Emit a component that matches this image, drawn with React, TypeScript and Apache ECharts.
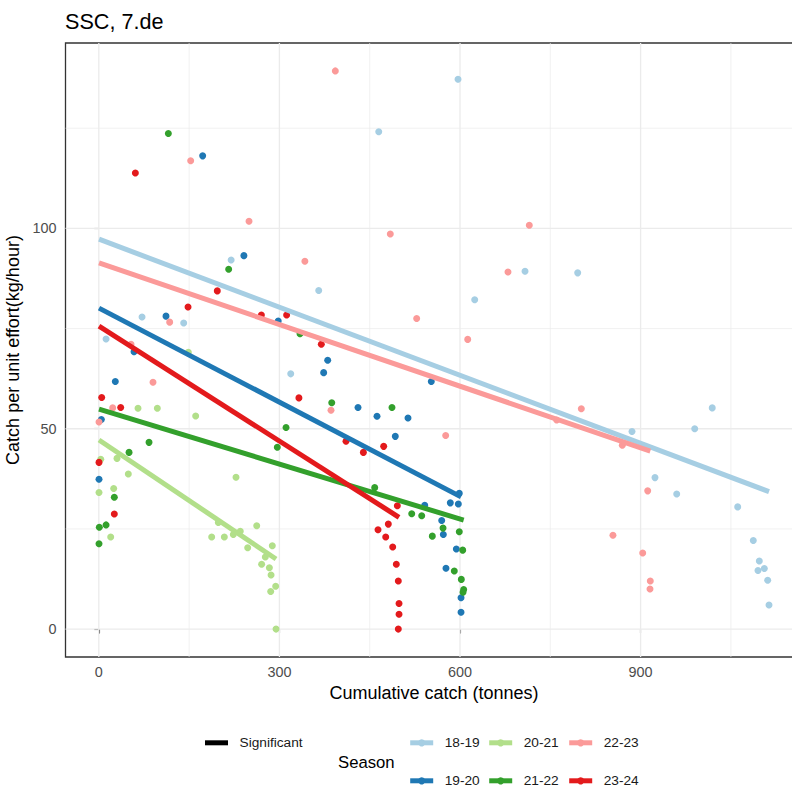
import React, { useEffect, useRef } from "react";
import * as echarts from "echarts";

const FONT = "'Liberation Sans', Arial, sans-serif";

const seasons = ["18-19", "19-20", "20-21", "21-22", "22-23", "23-24"];
const colors = ["#A6CEE3", "#1F78B4", "#B2DF8A", "#33A02C", "#FB9A99", "#E31A1C"];

const xTicks = [0, 300, 600, 900];
const xMinor = [150, 450, 750, 1050];
const yTicks = [0, 50, 100];
const yMinor = [25, 75, 125];

const xRange = [-55.35, 1168.95];
const yRange = [-6.965, 146.265];

const pts1819: number[][] = [
  [12, 72.4], [71.8, 77.9], [141, 76.4], [219.8, 92.1], [318.8, 63.7], [365.3, 84.5],
  [465, 124.1], [596.7, 137.2], [624.4, 82.2], [708, 89.3], [795.5, 88.9], [885.7, 49.3],
  [923.9, 37.8], [960, 33.7], [989.9, 50.0], [1019, 55.2], [1061.3, 30.5], [1087.2, 22.1],
  [1095, 14.6], [1097.2, 17.0], [1105.5, 15.1], [1111.1, 12.2], [1113.3, 6.0],
];
const pts1920: number[][] = [
  [172.5, 118.1], [241, 93.2], [111.6, 78.1], [298, 76.9], [58.5, 69.2], [27.4, 61.8],
  [4.2, 52.3], [0.3, 37.4], [380.2, 67.1], [373.5, 64.0], [552.3, 61.8], [430.6, 55.3],
  [462.1, 53.1], [513.6, 52.7], [492.5, 48.1], [541.4, 30.9], [583.9, 31.5], [598.8, 33.9],
  [597.2, 31.2], [569.6, 27.1], [572.3, 23.6], [593.9, 20.0], [576.7, 15.2], [601.7, 7.8],
  [601.7, 4.2],
];
const pts2021: number[][] = [
  [3.2, 42.4], [30.2, 42.6], [0.3, 34.1], [24.7, 35.1], [19.7, 23.0], [49, 38.7],
  [65.1, 55.1], [97.2, 55.1], [148.7, 69.1], [160.9, 53.2], [227.9, 37.9], [187.5, 23.0],
  [208.5, 23.0], [198.5, 26.6], [223.4, 23.6], [235, 24.4], [262.3, 25.8], [247.3, 20.3],
  [288.2, 20.8], [276.6, 18.0], [270.5, 16.2], [283.3, 15.3], [286.1, 13.5], [293.8, 10.7],
  [285.5, 9.4], [294.4, 0],
];
const pts2122: number[][] = [
  [115.5, 123.7], [215.7, 89.8], [334.2, 73.7], [386.9, 56.5], [487, 55.3], [311, 50.3],
  [296.5, 45.4], [83.4, 46.6], [50.2, 44.1], [25.7, 32.9], [12, 26.0], [0.8, 25.4],
  [0.3, 21.3], [458.3, 35.3], [519.8, 28.8], [536.4, 28.3], [571.8, 25.2], [554, 23.2],
  [598.8, 24.3], [604.5, 19.7], [590.5, 14.5], [602.2, 12.4], [606.1, 9.9], [605, 9.2],
];
const pts2223: number[][] = [
  [152.6, 116.9], [249.5, 101.8], [342.3, 91.8], [392.9, 139.3], [484.2, 98.6], [715.1, 100.8],
  [679.7, 89.1], [528, 77.5], [612.8, 72.3], [117.7, 76.6], [53.5, 71.1], [90, 61.6],
  [23, 55.2], [0.3, 51.7], [385.7, 54.6], [576.2, 48.3], [801.5, 55.0], [760.6, 52.2],
  [869.6, 45.9], [911.8, 34.5], [854.1, 23.4], [903.5, 19.0], [916.1, 12.0], [915.6, 10.0],
];
const pts2324: number[][] = [
  [60.7, 113.8], [196.8, 84.4], [148.2, 80.4], [270, 78.4], [312, 78.4], [369.6, 71.1],
  [332.4, 57.7], [4.8, 57.8], [36.3, 55.3], [0.3, 41.6], [25.7, 28.7], [410.6, 46.9],
  [439.5, 44.1], [473.2, 45.6], [495.9, 30.8], [480.9, 26.2], [463.8, 24.8], [476.6, 23.0],
  [488.2, 20.5], [494.2, 16.2], [497.5, 12.0], [498.7, 6.4], [498.7, 3.7], [497.5, 0],
];
const points = [pts1819, pts1920, pts2021, pts2122, pts2223, pts2324];

// fitted regression lines: [x0, y0, x1, y1]
const fit1819 = [0.3, 97.3, 1113.3, 34.3];
const fit1920 = [0.3, 80.1, 601.7, 33.0];
const fit2021 = [0.3, 47.2, 294.4, 17.5];
const fit2122 = [0.3, 54.9, 606.1, 27.2];
const fit2223 = [0.3, 91.4, 916.1, 44.4];
const fit2324 = [0.3, 75.6, 498.7, 27.9];
const fits = [fit1819, fit1920, fit2021, fit2122, fit2223, fit2324];

export default function App() {
  const ref = useRef<HTMLDivElement>(null);
  useEffect(() => {
    document.body.style.margin = "0";
    const chart = echarts.init(ref.current!, null, { renderer: "svg" });

    const gridSeries: any[] = [];
    const gl = (data: number[][], w: number) => ({
      type: "line",
      data,
      silent: true,
      symbol: "none",
      z: 1,
      lineStyle: { color: "#EBEBEB", width: w },
      animation: false,
    });
    xMinor.forEach((v) => gridSeries.push(gl([[v, yRange[0]], [v, yRange[1]]], 0.7)));
    yMinor.forEach((v) => gridSeries.push(gl([[xRange[0], v], [xRange[1], v]], 0.7)));
    xTicks.forEach((v) => gridSeries.push(gl([[v, yRange[0]], [v, yRange[1]]], 1.3)));
    yTicks.forEach((v) => gridSeries.push(gl([[xRange[0], v], [xRange[1], v]], 1.3)));

    const lineSeries = seasons.map((s, i) => ({
      name: s,
      type: "line",
      data: [[fits[i][0], fits[i][1]], [fits[i][2], fits[i][3]]],
      symbol: "circle",
      showSymbol: false,
      z: 3,
      color: colors[i],
      lineStyle: { color: colors[i], width: 5 },
      silent: true,
    }));
    const scatterSeries = seasons.map((s, i) => ({
      name: s,
      type: "scatter",
      data: points[i],
      symbol: "circle",
      symbolSize: 7,
      z: 2,
      itemStyle: { color: colors[i], opacity: 1 },
      silent: true,
    }));
    const sigSeries = {
      name: "Significant",
      type: "line",
      data: [],
      color: "#000000",
      lineStyle: { color: "#000000", width: 5 },
      symbol: "circle",
      showSymbol: false,
    };

    const legendBase = {
      orient: "horizontal",
      padding: 0,
      itemGap: 0,
      itemWidth: 23,
      itemHeight: 9,
      selectedMode: false,
      lineStyle: { width: 5 },
      textStyle: { fontSize: 13.7, color: "#1A1A1A", fontFamily: FONT, padding: [0, 0, 0, 6.5] },
    };
    const legendPos = [
      [407.7, 735.8], [407.7, 773.8], [486.7, 735.8], [486.7, 773.8], [566.7, 735.8], [566.7, 773.8],
    ];
    const legends: any[] = seasons.map((s, i) => ({
      ...legendBase,
      data: [s],
      left: legendPos[i][0],
      top: legendPos[i][1],
    }));
    legends.push({
      ...legendBase,
      data: [{ name: "Significant", icon: "rect" }],
      itemHeight: 5,
      left: 205,
      top: 735.8,
    });

    chart.setOption({
      animation: false,
      backgroundColor: "#FFFFFF",
      title: [
        {
          text: "SSC, 7.de",
          left: 65,
          top: 10,
          padding: 0,
          textStyle: { fontSize: 21.6, fontWeight: "normal", color: "#000000", fontFamily: FONT },
        },
        {
          text: "Season",
          left: 338,
          top: 754,
          padding: 0,
          textStyle: { fontSize: 16.7, fontWeight: "normal", color: "#000000", fontFamily: FONT },
        },
      ],
      legend: legends,
      grid: {
        left: 65.5,
        top: 43,
        right: -10.5,
        bottom: 133,
        show: true,
        containLabel: false,
        outerBoundsMode: "none",
        borderColor: "#333333",
        borderWidth: 1.3,
        backgroundColor: "transparent",
      },
      xAxis: {
        type: "value",
        min: xRange[0],
        max: xRange[1],
        name: "Cumulative catch (tonnes)",
        nameLocation: "middle",
        nameGap: 24,
        nameTextStyle: { fontSize: 18, color: "#000000", fontFamily: FONT },
        axisLine: { show: false },
        splitLine: { show: false },
        axisTick: { show: true, customValues: xTicks, length: 4.5, lineStyle: { color: "#333333", width: 1.1 } },
        axisLabel: { show: true, customValues: xTicks, margin: 8, fontSize: 14.4, color: "#4D4D4D", fontFamily: FONT },
      },
      yAxis: {
        type: "value",
        min: yRange[0],
        max: yRange[1],
        name: "Catch per unit effort(kg/hour)",
        nameLocation: "middle",
        nameRotate: 90,
        nameGap: 39,
        nameTextStyle: { fontSize: 18, color: "#000000", fontFamily: FONT },
        axisLine: { show: false },
        splitLine: { show: false },
        axisTick: { show: true, customValues: yTicks, length: 4.5, lineStyle: { color: "#333333", width: 1.1 } },
        axisLabel: { show: true, customValues: yTicks, margin: 9, fontSize: 14.4, color: "#4D4D4D", fontFamily: FONT },
      },
      series: [...lineSeries, sigSeries, ...scatterSeries, ...gridSeries],
    });
    return () => chart.dispose();
  }, []);
  return (
    <div
      ref={ref}
      style={{ width: 792, height: 790, position: "absolute", left: 0, top: 0 }}
    />
  );
}
